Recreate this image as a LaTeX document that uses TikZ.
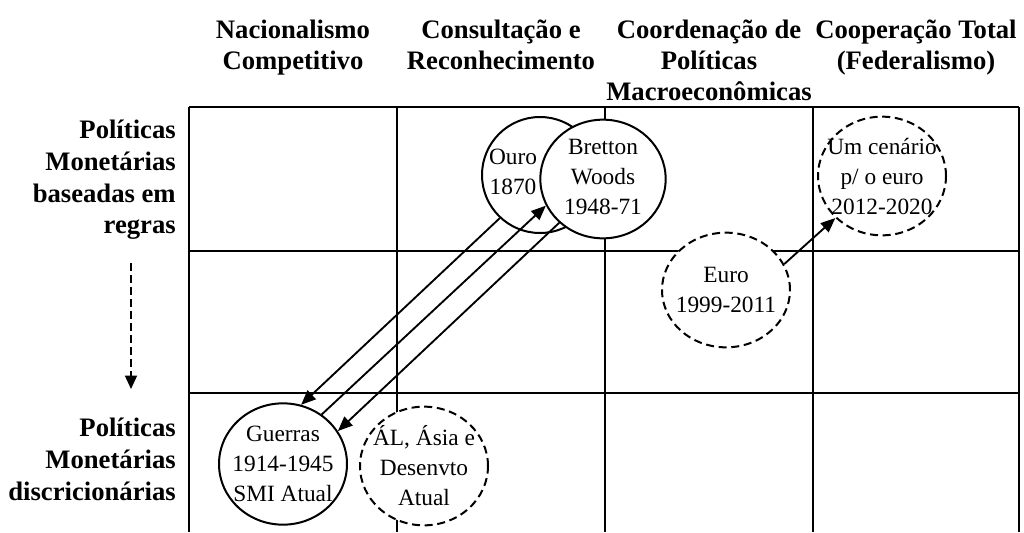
\documentclass[tikz,border=0pt]{standalone}
\usepackage{fontspec}
\setmainfont{Liberation Serif}
\usepackage{tikz}
\usetikzlibrary{
        arrows.meta,
        shapes.geometric
    }
\tikzset{>={Triangle[length=11pt,width=9pt]}}
\tikzset{
    colhead/.style={font=\fontsize{20}{23.3}\selectfont\bfseries, align=center, anchor=north, inner sep=0pt},
    rowhead/.style={font=\fontsize{20}{23.8}\selectfont\bfseries, align=right, anchor=north east, inner sep=0pt},
    bubble/.style={ellipse, draw, fill=white, line width=1.5pt, inner sep=0pt, minimum width=96pt, minimum height=89pt},
    maybe/.style={bubble, dash pattern=on 6pt off 3.5pt},
    bubtext/.style={font=\fontsize{17.5}{22.5}\selectfont, align=center, inner sep=0pt},
    gridline/.style={line width=1.4pt},
    link/.style={->, line width=1.4pt}
}

\begin{document}
\begin{tikzpicture}[x=0.75pt,y=-0.75pt]
            \useasboundingbox (0,0) rectangle (1024,532);
            % table
            \draw[gridline] (189,107) -- (1019,107) (189,251) -- (1019,251) (189,393) -- (1019,393);
            \foreach \x in {189,397,605,813,1019}
                \draw[gridline] (\x,107) -- (\x,532);

            % column and row heads
            \node[colhead] (nac)      at (293,20) {Nacionalismo\\Competitivo};
            \node[colhead] (consulta) at (501,20) {Consultação e\\Reconhecimento};
            \node[colhead] (coord)    at (709,20) {Coordenação de\\Políticas\\Macroeconômicas};
            \node[colhead] (coop)     at (916,20) {Cooperação Total\\(Federalismo)};
            \node[rowhead] (regras)   at (176,120) {Políticas\\Monetárias\\baseadas em\\regras};
            \node[rowhead] (discr)    at (176,418) {Políticas\\Monetárias\\discricionárias};

            \coordinate (dtop) at (131,263);
            \coordinate (dbot) at (131,389);
            \draw[-{Triangle[length=10pt,width=9pt]}, line width=1.2pt, dash pattern=on 6pt off 3pt] (dtop) -- (dbot);

            % regimes
            \node[bubble, minimum width=87pt, minimum height=87pt] (ouro) at (540,175) {};
            \node[bubble, minimum width=94pt] (bretton) at (603,179) {};
            \node[maybe, minimum height=86pt] (euro) at (726,290) {};
            \node[maybe] (cenario) at (882,176) {};
            \node[bubble, minimum height=91pt] (guerras) at (283,464) {};
            \node[maybe] (al) at (424,466) {};

            \node[bubtext] (ouroTxt)    at (513,172)  {Ouro\\1870};
            \node[bubtext] (brettonTxt) at (603,177)  {Bretton\\Woods\\1948-71};
            \node[bubtext] (euroTxt)    at (euro)     {Euro\\1999-2011};
            \node[bubtext] (cenarioTxt) at (cenario)  {Um cenário\\p/ o euro\\2012-2020};
            \node[bubtext] (guerrasTxt) at (guerras)  {Guerras\\1914-1945\\SMI Atual};
            \node[bubtext] (alTxt)      at (al)       {ÁL, Ásia e\\Desenvto\\Atual};

            \draw[link] (ouro.227)    -- (guerras.73);
            \draw[link] (guerras.52)  -- (bretton.205);
            \draw[link] (bretton.225) -- (guerras.31);
            \draw[link] (euro.24)     -- (cenario.222);
        \end{tikzpicture}
\end{document}
